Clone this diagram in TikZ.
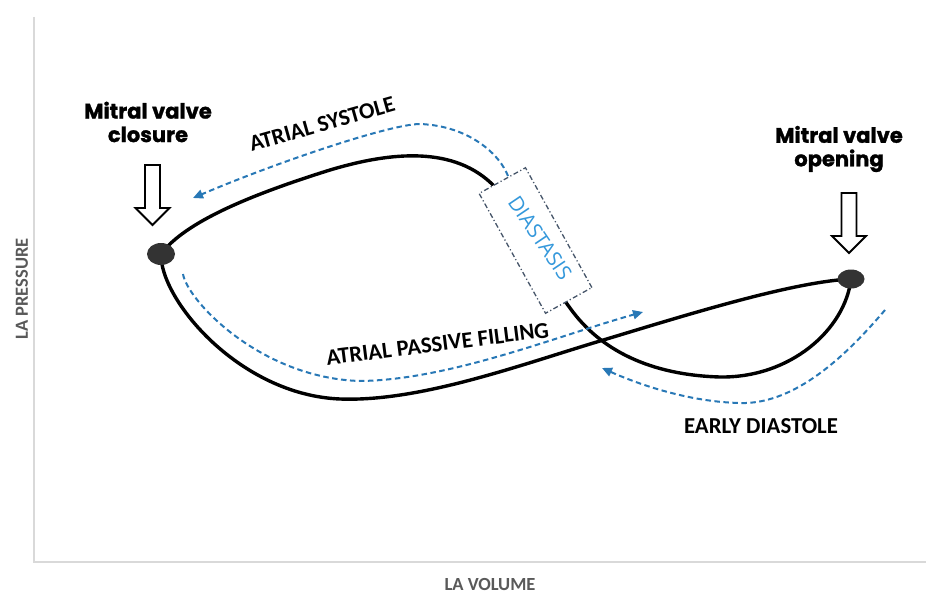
\documentclass[tikz,border=0pt]{standalone}
\usepackage{fontspec}
\usetikzlibrary{arrows.meta,shapes.geometric}
\newfontfamily\labelfont{Carlito}
\newfontfamily\heavyfont{Poppins}[BoldFeatures={FakeBold=1.3}]
\newfontfamily\diafont{Open Sans}
\definecolor{flowblue}{RGB}{40,120,182}
\definecolor{diablue}{RGB}{52,152,219}
\definecolor{boxgray}{RGB}{70,85,105}
\definecolor{axisgray}{RGB}{217,217,217}
\definecolor{labelgray}{RGB}{89,89,89}
\definecolor{dotgray}{RGB}{51,51,51}
\tikzset{
  pvloop/.style={line width=3.4pt, line cap=round},
  flowarrow/.style={flowblue, line width=2pt, dash pattern=on 5.5pt off 3.5pt, -{Triangle[length=10pt,width=9pt]}},
  phaselabel/.style={font=\labelfont\bfseries\fontsize{22.8}{27}\selectfont, inner sep=0pt},
  axislabel/.style={font=\labelfont\bfseries\fontsize{18.5}{22}\selectfont, text=labelgray, inner sep=0pt},
  valvelabel/.style={font=\heavyfont\bfseries\fontsize{21}{23.5}\selectfont, align=center, inner sep=0pt},
  valvedot/.style={ellipse, fill=dotgray, inner sep=0pt},
  hollowdown/.pic={\draw[line width=1.8pt, fill=white, line join=miter] (-7.5,0) -- (7.5,0) -- (7.5,43) -- (17,43) -- (0,60) -- (-17,43) -- (-7.5,43) -- cycle;}
}
\begin{document}
\begin{tikzpicture}[x=1pt,y=-1pt]
\useasboundingbox (0,0) rectangle (926,594);
% axes
\coordinate (Ytop) at (34,17);
\coordinate (O) at (34,562);
\coordinate (Xend) at (926,562);
\draw[axisgray, line width=2pt] (Ytop) -- (O) -- (Xend);
\node[axislabel, rotate=90] (ylab) at (22,289) {LA PRESSURE};
\node[axislabel] (xlab) at (490,584) {LA VOLUME};
% loop
\coordinate (L) at (161,254);
\coordinate (R) at (851,279);
\draw[pvloop] (L) .. controls (185,222) and (250,195) .. (330,170)
  .. controls (390,152) and (455,145) .. (495,187)
  .. controls (530,230) and (545,275) .. (570,308)
  .. controls (600,350) and (650,375) .. (720,377)
  .. controls (790,378) and (845,330) .. (R);
\draw[pvloop] (L) .. controls (160,300) and (240,395) .. (340,399)
  .. controls (420,402) and (520,365) .. (600,341)
  .. controls (680,317) and (790,282) .. (R);
% diastasis box
\node[draw=boxgray, fill=white, dash pattern=on 5pt off 2.5pt on 1.2pt off 2.5pt, line width=1.3pt, rotate=-61, minimum width=137pt, minimum height=53pt, inner sep=0pt] (box) at (535.5,240.5) {};
\node[font=\diafont\fontsize{20.5}{24}\selectfont, text=diablue, rotate=-56, inner sep=0pt] (diast) at (540,238) {DIASTASIS};
% flow arrows
\coordinate (sysStart) at (508,176);
\coordinate (sysEnd) at (193,198);
\draw[flowarrow] (sysStart) .. controls (500,155) and (470,126) .. (420,124)
  .. controls (390,124) and (275,163) .. (sysEnd);
\coordinate (apfStart) at (183,274);
\coordinate (apfEnd) at (643,312);
\draw[flowarrow] (apfStart) .. controls (187,300) and (260,378) .. (360,381)
  .. controls (450,380) and (560,335) .. (apfEnd);
\coordinate (edStart) at (885,310);
\coordinate (edEnd) at (602,368);
\draw[flowarrow] (edStart) .. controls (855,345) and (800,405) .. (740,403)
  .. controls (690,402) and (640,385) .. (edEnd);
% valve dots
\node[valvedot, minimum width=28pt, minimum height=22pt] (Ldot) at (L) {};
\node[valvedot, minimum width=27pt, minimum height=19pt] (Rdot) at (R) {};
% hollow arrows
\pic at (152.5,165) {hollowdown};
\pic at (849,193) {hollowdown};
% labels
\node[valvelabel] (closure) at (148,122) {Mitral valve\\closure};
\node[valvelabel] (opening) at (839,149) {Mitral valve\\opening};
\node[phaselabel, rotate=15.8] (sys) at (322,124) {ATRIAL SYSTOLE};
\node[phaselabel, rotate=7.2] (apf) at (437.5,344) {ATRIAL PASSIVE FILLING};
\node[phaselabel] (ed) at (761,426) {EARLY DIASTOLE};
\end{tikzpicture}
\end{document}
